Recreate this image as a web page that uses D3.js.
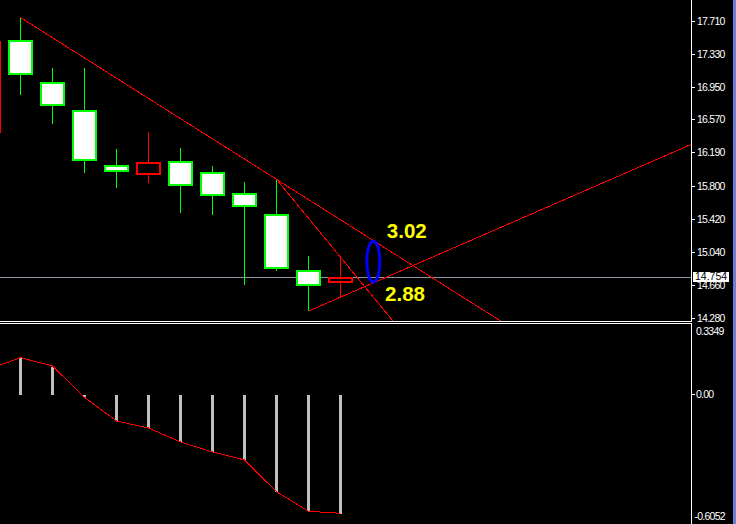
<!DOCTYPE html>
<html><head><meta charset="utf-8">
<script src="https://cdn.jsdelivr.net/npm/d3@7"></script>
<style>html,body{margin:0;padding:0;background:#000;overflow:hidden}</style>
</head><body><svg id="c" width="736" height="524"></svg>
<script>
// ---- data ----
const barIndex = [0,1,2,3,4,5,6,7,8,9,10,11];
const open  = [16.412, 17.482, 16.997, 16.674, 16.040, 15.925, 16.086, 15.959, 15.717, 15.475, 14.829, 14.682];
const high  = [17.550, 17.747, 17.162, 17.162, 16.228, 16.424, 16.245, 16.032, 15.847, 15.878, 14.994, 14.979];
const low   = [16.350, 16.854, 16.520, 15.955, 15.782, 15.839, 15.493, 15.470, 14.663, 14.824, 14.356, 14.517];
const close = [17.474, 17.078, 16.720, 16.086, 15.959, 16.074, 15.798, 15.682, 15.555, 14.840, 14.644, 14.754];
const priceTicks = [17.710, 17.330, 16.950, 16.570, 16.190, 15.800, 15.420, 15.040, 14.660, 14.280];
const lastPrice = 14.754;
const macd   = [0.131, 0.1925, 0.1445, -0.012, -0.133, -0.170, -0.2416, -0.2926, -0.332, -0.494, -0.594, -0.6052];
const signal = [0.131, 0.1905, 0.148, -0.012, -0.133, -0.1685, -0.240, -0.291, -0.332, -0.494, -0.594, -0.604];
const indTicks = [0.3349, 0.00, -0.6052];
const indTickLabels = ["0.3349", "0.00", "-0.6052"];
// trend lines: [startBar, startField, throughBar, throughField]
const trendLines = [[1, "high", 9, "high"], [9, "high", 11, "high"], [10, "low", 11, "low"]];
const markBar = 12;
const notes = ["3.02", "2.88"];

// ---- scales ----
const W = 736, H = 524, axisX = 691.5;
const x = d3.scaleLinear().domain([0, 11]).range([-11.5, 340.5]);
const y = d3.scaleLinear().domain([14.280, 17.710]).range([317.7, 20.7]);
const yi = d3.scaleLinear().domain([-0.6052, 0.3349]).range([513.5, 329.4]);

const svg = d3.select("#c");
svg.append("rect").attr("width", W).attr("height", H).attr("fill", "#000");

const defs = svg.append("defs");
defs.append("clipPath").attr("id", "mainClip").append("rect").attr("x", 0).attr("y", 0).attr("width", 691).attr("height", 321);
defs.append("clipPath").attr("id", "indClip").append("rect").attr("x", 0).attr("y", 324).attr("width", 691).attr("height", 200);

const main = svg.append("g").attr("clip-path", "url(#mainClip)");

// last price line
main.append("line").attr("x1", 0).attr("x2", axisX).attr("y1", Math.round(y(lastPrice)) + 0.5).attr("y2", Math.round(y(lastPrice)) + 0.5)
  .attr("stroke", "#8a94a2").attr("stroke-width", 1).attr("shape-rendering", "crispEdges");

// candles
const candles = barIndex.map(i => ({i, o: open[i], h: high[i], l: low[i], c: close[i]}));
const cg = main.append("g").attr("shape-rendering", "crispEdges");
candles.forEach(d => {
  const bear = d.c < d.o;
  const col = bear ? "#00ff00" : "#ff0000";
  const fill = bear ? "#ffffff" : "#000000";
  const cx = x(d.i);
  cg.append("line").attr("x1", cx).attr("x2", cx).attr("y1", Math.round(y(d.h))).attr("y2", Math.round(y(d.l)))
    .attr("stroke", col).attr("stroke-width", 1);
  const top = Math.round(y(Math.max(d.o, d.c))), bot = Math.round(y(Math.min(d.o, d.c)));
  cg.append("rect").attr("x", cx - 12.5).attr("y", top).attr("width", 25).attr("height", Math.max(2, bot - top)).attr("fill", col);
  if (bot - top > 4) cg.append("rect").attr("x", cx - 10.5).attr("y", top + 2).attr("width", 21).attr("height", bot - top - 4).attr("fill", fill);
});

// trend lines
const val = (i, f) => f === "high" ? high[i] : low[i];
const tg = main.append("g").attr("shape-rendering", "crispEdges");
const lineAt = (t, b) => val(t[0], t[1]) + (val(t[2], t[3]) - val(t[0], t[1])) * (b - t[0]) / (t[2] - t[0]);
trendLines.forEach(t => {
  const endB = 40;
  tg.append("line").attr("x1", x(t[0])).attr("y1", y(val(t[0], t[1])))
    .attr("x2", x(endB)).attr("y2", y(lineAt(t, endB)))
    .attr("stroke", "#ff0000").attr("stroke-width", 1);
});

// ellipse mark between line A and line C at markBar
const yA = y(lineAt(trendLines[0], markBar)), yC = y(lineAt(trendLines[2], markBar));
const ex = x(markBar) + 0.8;
main.append("ellipse").attr("cx", ex).attr("cy", (yA + yC) / 2).attr("rx", 6.5).attr("ry", (yC - yA) / 2 - 1.2)
  .attr("fill", "none").attr("stroke", "#0000ff").attr("stroke-width", 3);

main.append("text").attr("x", ex + 13.5).attr("y", yA - 2.5).text(notes[0])
  .attr("fill", "#ffff00").attr("font-family", "Liberation Sans, Arial, sans-serif").attr("font-weight", "bold").attr("font-size", 20.5);
main.append("text").attr("x", ex + 11.8).attr("y", yC + 18).text(notes[1])
  .attr("fill", "#ffff00").attr("font-family", "Liberation Sans, Arial, sans-serif").attr("font-weight", "bold").attr("font-size", 20.5);

// indicator
const ind = svg.append("g").attr("clip-path", "url(#indClip)");
ind.append("g").attr("shape-rendering", "crispEdges").selectAll("rect").data(barIndex).join("rect")
  .attr("x", i => x(i) - 1.5).attr("width", 3)
  .attr("y", i => Math.min(yi(0), yi(macd[i])))
  .attr("height", i => Math.max(2, Math.abs(yi(macd[i]) - yi(0))))
  .attr("fill", "#c0c0c0");
ind.append("path").datum(barIndex)
  .attr("d", d3.line().x(i => x(i)).y(i => yi(signal[i])))
  .attr("fill", "none").attr("stroke", "#ff0000").attr("stroke-width", 1).attr("shape-rendering", "crispEdges");

// frames
const fr = svg.append("g").attr("stroke", "#ffffff").attr("stroke-width", 1).attr("shape-rendering", "crispEdges");
fr.append("line").attr("x1", axisX).attr("x2", axisX).attr("y1", 0).attr("y2", 321.5);
fr.append("line").attr("x1", 0).attr("x2", axisX).attr("y1", 321.5).attr("y2", 321.5);
fr.append("line").attr("x1", 0).attr("x2", axisX).attr("y1", 323.5).attr("y2", 323.5);
fr.append("line").attr("x1", axisX).attr("x2", axisX).attr("y1", 323.5).attr("y2", H);

// price axis
const font = "Liberation Sans, Arial, sans-serif";
const ax = svg.append("g");
priceTicks.forEach(v => {
  const yy = Math.round(y(v)) + 0.5;
  ax.append("line").attr("x1", axisX).attr("x2", axisX + 3).attr("y1", yy).attr("y2", yy)
    .attr("stroke", "#fff").attr("shape-rendering", "crispEdges");
  ax.append("text").attr("x", 697).attr("y", yy).attr("dy", "0.36em").text(v.toFixed(3))
    .attr("fill", "#fff").attr("font-family", font).attr("font-size", 10.5).attr("letter-spacing", "-0.75px");
});
// last price box
const ly = y(lastPrice);
ax.append("rect").attr("x", 693).attr("y", Math.round(ly) - 5).attr("width", 36).attr("height", 10).attr("fill", "#fff");
ax.append("text").attr("x", 695).attr("y", ly).attr("dy", "0.36em").text(lastPrice.toFixed(3))
  .attr("fill", "#000").attr("font-family", font).attr("font-size", 10.5);

// indicator axis
const indOffsets = [1.6, -1, 2.5];
indTicks.forEach((v, k) => {
  const yy = yi(v) + indOffsets[k];
  if (v === 0) ax.append("line").attr("x1", axisX).attr("x2", axisX + 3).attr("y1", Math.round(yy) + 0.5).attr("y2", Math.round(yy) + 0.5)
    .attr("stroke", "#fff").attr("shape-rendering", "crispEdges");
  ax.append("text").attr("x", v < 0 ? 694.5 : 696).attr("y", yy).attr("dy", "0.36em").text(indTickLabels[k])
    .attr("fill", "#fff").attr("font-family", font).attr("font-size", 10.5).attr("letter-spacing", "-0.75px");
});

// right window border
svg.append("rect").attr("x", 733).attr("y", 0).attr("width", 3).attr("height", H).attr("fill", "#6d7ed6");
</script></body></html>
